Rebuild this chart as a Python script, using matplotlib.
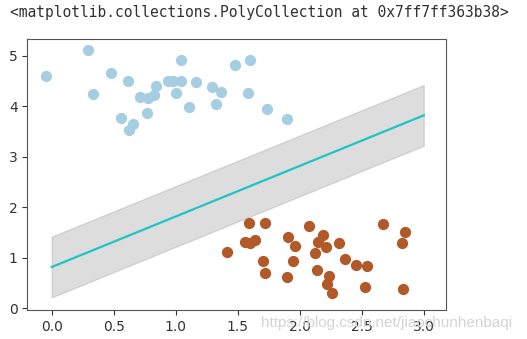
import numpy as np
import matplotlib.pyplot as plt

# ---- points ----
blue_x = [-0.048, 0.293, 0.476, 0.618, 0.331, 0.839, 0.712, 0.779, 0.825, 0.771,
          0.556, 0.656, 0.623, 1.040, 0.940, 0.981, 1.043, 1.000, 1.161, 1.107,
          1.290, 1.365, 1.327, 1.478, 1.599, 1.583, 1.736, 1.897]
blue_y = [4.59, 5.11, 4.65, 4.49, 4.25, 4.40, 4.19, 4.16, 4.22, 3.86,
          3.76, 3.64, 3.54, 4.92, 4.50, 4.50, 4.49, 4.26, 4.47, 3.99,
          4.38, 4.28, 4.04, 4.82, 4.92, 4.26, 3.94, 3.75]

red_x = [1.594, 1.720, 2.073, 2.669, 2.847, 2.823, 1.559, 1.599, 1.640, 1.411,
         1.903, 1.962, 2.190, 2.150, 2.212, 2.317, 2.121, 1.704, 1.943, 2.363,
         2.452, 2.545, 1.720, 1.900, 2.142, 2.234, 2.218, 2.258, 2.529, 2.831]
red_y = [1.70, 1.69, 1.64, 1.68, 1.51, 1.29, 1.31, 1.29, 1.35, 1.11,
         1.41, 1.24, 1.46, 1.31, 1.21, 1.29, 1.09, 0.94, 0.94, 0.97,
         0.86, 0.85, 0.70, 0.62, 0.76, 0.65, 0.49, 0.30, 0.42, 0.38]

# fitted line y = m*x + b with margin d
m, b, d = 1.0, 0.82, 0.6
x_range = [0.0, 3.0]

W, H = 527, 339
fig = plt.figure(figsize=(W / 100, H / 100), dpi=100)
ax = fig.add_axes([27.3 / W, 1 - 310 / H, (445.7 - 27.3) / W, (310 - 39) / H])

ax.scatter(blue_x, blue_y, s=50, color='#a6cee3', zorder=3)
ax.scatter(red_x, red_y, s=50, color='#b15928', zorder=3)

xfit = np.linspace(x_range[0], x_range[1])
yfit = m * xfit + b
ax.plot(xfit, yfit, '-', color='#1fc4c4', lw=1.6)
ax.fill_between(xfit, yfit - d, yfit + d, edgecolor='none', color='#AAAAAA', alpha=0.4)

ax.set_xlim(-0.197, 3.177)
ax.set_ylim(-0.03, 5.33)
ax.set_xticks([0.0, 0.5, 1.0, 1.5, 2.0, 2.5, 3.0])
ax.set_yticks([0, 1, 2, 3, 4, 5])
ax.tick_params(labelsize=10, colors='#333333')
for s in ax.spines.values():
    s.set_color('#555555')

# notebook output line and watermark (the watermark sits over the x tick labels, as in the screenshot)
fig.text(10 / W, 1 - 16.5 / H, '<matplotlib.collections.PolyCollection at 0x7ff7ff363b38>',
         family='DejaVu Sans Mono', fontsize=10.5, color='#303030', va='baseline')
fig.text(512 / W, 1 - 322.7 / H, 'https://blog.csdn.net/jiaochunhenbaqi',
         family='Liberation Sans', fontsize=11, color='#d4d4d4', ha='right', va='center')

fig.savefig('out.png', dpi=100)
